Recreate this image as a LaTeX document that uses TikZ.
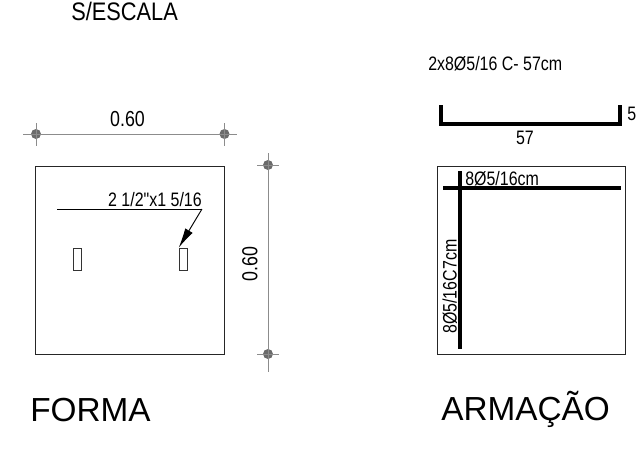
\documentclass[tikz,border=0pt]{standalone}
\usepackage{fontspec}
\setmainfont{Liberation Sans}
\newfontfamily\narrowfont[FakeStretch=0.82]{Liberation Sans}
\newfontfamily\headfont[FakeStretch=0.86]{Liberation Sans}
\usetikzlibrary{arrows.meta,positioning,calc}
\definecolor{dimgray}{gray}{0.55}
\definecolor{dotgray}{gray}{0.42}
\tikzset{
  panel/.style={draw=black!85, line width=0.75pt, inner sep=0pt, minimum width=141.4pt, minimum height=141pt},
  slot/.style={draw=black!80, line width=0.55pt, fill=white, inner sep=0pt, minimum width=6pt, minimum height=17pt},
  dimdot/.style={circle, fill=dotgray, inner sep=0pt, minimum size=7.5pt},
  dimline/.style={draw=dimgray, line width=0.7pt},
  bar/.style={line width=2.4pt, draw=black},
  label/.style={inner sep=0pt, font=\narrowfont\fontsize{14.6}{15}\selectfont},
  title/.style={inner sep=0pt, font=\fontsize{25}{27}\selectfont}
}
\begin{document}
\begin{tikzpicture}[x=0.75pt, y=-0.75pt]
      \useasboundingbox (0,0) rectangle (637,451);

      % Heading
      \node[label, font=\headfont\fontsize{19}{20}\selectfont, anchor=base west] (scale) at (71,20) {S/ESCALA};

      % Forma
      \node[panel] (forma) at (130.2,260) {};
      \node[slot] (slot1) at (77,259.5) {};
      \node[slot] (slot2) at (183,259.5) {};
      \node[title, anchor=base west] (formaname) at (30,421.5) {FORMA};

      % Top dimension
      \node[dimdot] (top1) at (36,134) {};
      \node[dimdot] (top2) at (224.5,134) {};
      \coordinate (top1a) at (23,134);
      \coordinate (top2a) at (237,134);
      \coordinate (top1b) at (36,123);
      \coordinate (top1c) at (36,146);
      \coordinate (top2b) at (224.5,123);
      \coordinate (top2c) at (224.5,146);
      \node[label, font=\narrowfont\fontsize{16.3}{17}\selectfont] (topdim) at (127.5,119) {0.60};
      \draw[dimline] (top1a) -- (top2a);
      \draw[dimline] (top1b) -- (top1c);
      \draw[dimline] (top2b) -- (top2c);

      % Right dimension
      \node[dimdot] (side1) at (268,165) {};
      \node[dimdot] (side2) at (268,354) {};
      \coordinate (side1a) at (268,153);
      \coordinate (side2a) at (268,372);
      \coordinate (side1b) at (257,165);
      \coordinate (side1c) at (279,165);
      \coordinate (side2b) at (257,354);
      \coordinate (side2c) at (279,354);
      \node[label, font=\narrowfont\fontsize{16.3}{17}\selectfont, rotate=90] (sidedim) at (250,264) {0.60};
      \draw[dimline] (side1a) -- (side2a);
      \draw[dimline] (side1b) -- (side1c);
      \draw[dimline] (side2b) -- (side2c);

      % Leader
      \coordinate (lead1) at (57,209);
      \coordinate (lead2) at (202,209);
      \node[label, anchor=base east] (leadtext) at (202,206) {2 1/2"x1 5/16};
      \draw[line width=0.7pt, black] (lead1) -- (lead2);
      \draw[line width=0.7pt, black, -{Latex[length=15pt, width=6.5pt]}] (lead2) -- (slot2.north west);

      % Armacao
      \node[panel] (arm) at (531.7,260) {};
      \node[title, anchor=base west] (armname) at (441,420) {ARMAÇÃO};
      \node[label, anchor=base west] (armtext) at (428,70) {2x8Ø5/16 C- 57cm};
      \node[label, anchor=base] (len) at (525,144) {57};
      \node[label, anchor=base west] (hook) at (627,120) {5};
      \node[label, anchor=base west] (hortext) at (465,185) {8Ø5/16cm};
      \node[label, anchor=base west, rotate=90] (vertext) at (456.5,334) {8Ø5/16C7cm};

      % Bars
      \coordinate (b1) at (441,105);
      \coordinate (b2) at (441,124);
      \coordinate (b3) at (620,124);
      \coordinate (b4) at (620,105);
      \coordinate (h1) at (443,188);
      \coordinate (h2) at (621,188);
      \coordinate (v1) at (460,171);
      \coordinate (v2) at (460,349);
      \draw[bar] (b1) -- (b2) -- (b3) -- (b4);
      \draw[bar] (h1) -- (h2);
      \draw[bar, line width=2.8pt] (v1) -- (v2);
\end{tikzpicture}
\end{document}
